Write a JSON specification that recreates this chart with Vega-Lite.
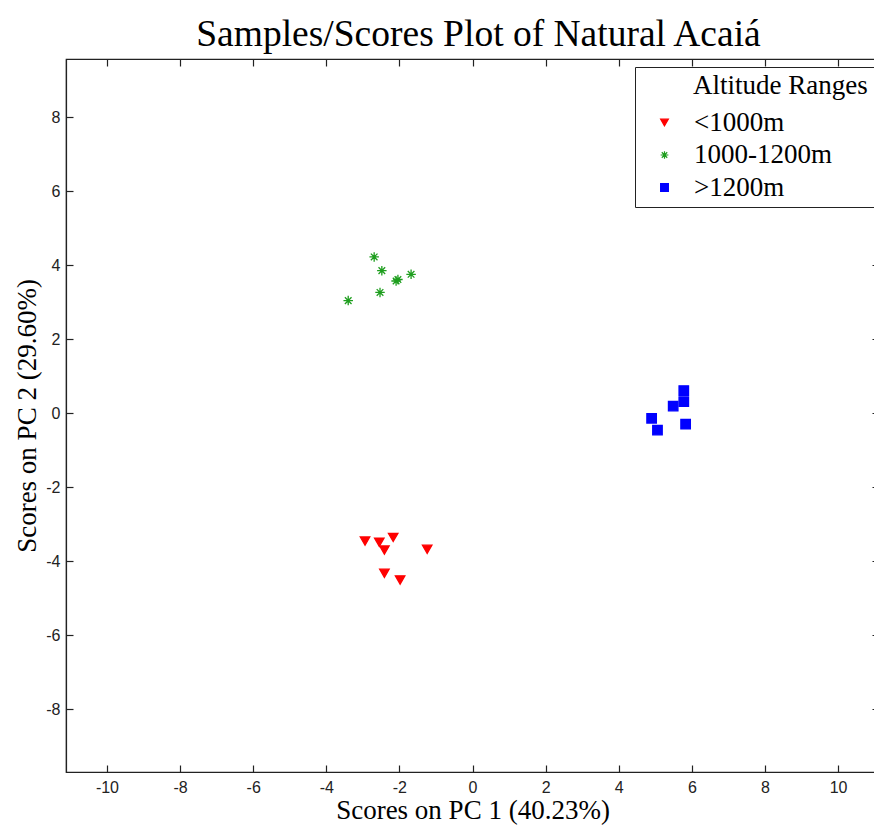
{
  "$schema": "https://vega.github.io/schema/vega-lite/v6.json",
  "width": 813,
  "height": 713,
  "autosize": {"type": "none"},
  "padding": {"left": 66, "top": 59, "right": 0, "bottom": 53},
  "background": "white",
  "title": {
    "text": "Samples/Scores Plot of Natural Acaiá",
    "font": "Liberation Serif",
    "fontSize": 37.5,
    "fontWeight": "normal",
    "color": "#000",
    "anchor": "middle",
    "offset": 5,
    "dx": 6
  },
  "config": {
    "view": {"stroke": "#222", "strokeWidth": 1.2},
    "axis": {
      "grid": false,
      "domainColor": "#222",
      "domainWidth": 1.2,
      "tickColor": "#222",
      "tickWidth": 1.2,
      "tickSize": -7,
      "labelFont": "Liberation Sans",
      "labelFontSize": 16,
      "labelColor": "#222",
      "labelExpr": "'' + datum.value",
      "titleFont": "Liberation Serif",
      "titleFontSize": 27,
      "titleFontWeight": "normal",
      "titleColor": "#000"
    }
  },
  "data": {
    "values": [
      {"pc1": -2.94, "pc2": -3.46, "group": "<1000m"},
      {"pc1": -2.55, "pc2": -3.49, "group": "<1000m"},
      {"pc1": -2.17, "pc2": -3.36, "group": "<1000m"},
      {"pc1": -2.41, "pc2": -3.70, "group": "<1000m"},
      {"pc1": -1.24, "pc2": -3.68, "group": "<1000m"},
      {"pc1": -2.41, "pc2": -4.33, "group": "<1000m"},
      {"pc1": -1.98, "pc2": -4.51, "group": "<1000m"},
      {"pc1": -2.69, "pc2": 4.22, "group": "1000-1200m"},
      {"pc1": -2.48, "pc2": 3.85, "group": "1000-1200m"},
      {"pc1": -2.09, "pc2": 3.57, "group": "1000-1200m"},
      {"pc1": -2.04, "pc2": 3.61, "group": "1000-1200m"},
      {"pc1": -1.68, "pc2": 3.75, "group": "1000-1200m"},
      {"pc1": -2.53, "pc2": 3.26, "group": "1000-1200m"},
      {"pc1": -3.40, "pc2": 3.04, "group": "1000-1200m"},
      {"pc1": 5.78, "pc2": 0.61, "group": ">1200m"},
      {"pc1": 5.78, "pc2": 0.31, "group": ">1200m"},
      {"pc1": 5.49, "pc2": 0.19, "group": ">1200m"},
      {"pc1": 4.90, "pc2": -0.14, "group": ">1200m"},
      {"pc1": 5.06, "pc2": -0.46, "group": ">1200m"},
      {"pc1": 5.83, "pc2": -0.30, "group": ">1200m"}
    ]
  },
  "layer": [
    {
      "mark": {"type": "point", "opacity": 0},
      "encoding": {
        "x": {"field": "pc1", "type": "quantitative", "scale": {"domain": [-11.12, 11.12], "nice": false, "zero": false},
              "axis": {"orient": "top", "labels": false, "title": null, "domain": false, "values": [-10, -8, -6, -4, -2, 0, 2, 4, 6, 8, 10]}},
        "y": {"field": "pc2", "type": "quantitative", "scale": {"domain": [-9.7, 9.57], "nice": false, "zero": false},
              "axis": {"orient": "right", "labels": false, "title": null, "domain": false, "values": [-8, -6, -4, -2, 0, 2, 4, 6, 8]}}
      }
    },
    {
      "mark": {"type": "point", "filled": true, "opacity": 1, "strokeWidth": 1.3},
      "encoding": {
        "x": {"field": "pc1", "type": "quantitative", "scale": {"domain": [-11.12, 11.12], "nice": false, "zero": false},
              "axis": {"orient": "bottom", "title": "Scores on PC 1 (40.23%)", "values": [-10, -8, -6, -4, -2, 0, 2, 4, 6, 8, 10], "labelPadding": 14, "titlePadding": 2}},
        "y": {"field": "pc2", "type": "quantitative", "scale": {"domain": [-9.7, 9.57], "nice": false, "zero": false},
              "axis": {"orient": "left", "title": "Scores on PC 2 (29.60%)", "values": [-8, -6, -4, -2, 0, 2, 4, 6, 8], "labelPadding": 13, "titlePadding": 4}},
        "fill": {"field": "group", "type": "nominal",
                 "scale": {"domain": ["<1000m", "1000-1200m", ">1200m"], "range": ["#ff0000", "#1e9e1e", "#0000ff"]},
                 "legend": {
                   "title": "Altitude Ranges",
                   "orient": "none", "legendX": 569, "legendY": 8,
                   "direction": "vertical",
                   "strokeColor": "#222", "fillColor": "white", "padding": 6,
                   "titleFont": "Liberation Serif", "titleFontSize": 27, "titleFontWeight": "normal", "titleColor": "#000",
                   "labelFont": "Liberation Serif", "labelFontSize": 27, "labelColor": "#000",
                   "symbolSize": 60, "symbolOffset": 10, "labelOffset": 16, "rowPadding": 4.5, "titlePadding": 9,
                   "symbolStrokeWidth": 1.2,
                   "encoding": {"title": {"dx": {"value": 52}}}
                 }},
        "stroke": {"field": "group", "type": "nominal",
                   "scale": {"domain": ["<1000m", "1000-1200m", ">1200m"], "range": ["#ff0000", "#1e9e1e", "#0000ff"]}},
        "shape": {"field": "group", "type": "nominal",
                  "scale": {"domain": ["<1000m", "1000-1200m", ">1200m"],
                            "range": ["triangle-down", "M-1,0L1,0M0,-1L0,1M-0.7,-0.7L0.7,0.7M-0.7,0.7L0.7,-0.7", "square"]}},
        "size": {"value": 90}
      }
    }
  ],
  "resolve": {"axis": {"x": "independent", "y": "independent"}}
}
